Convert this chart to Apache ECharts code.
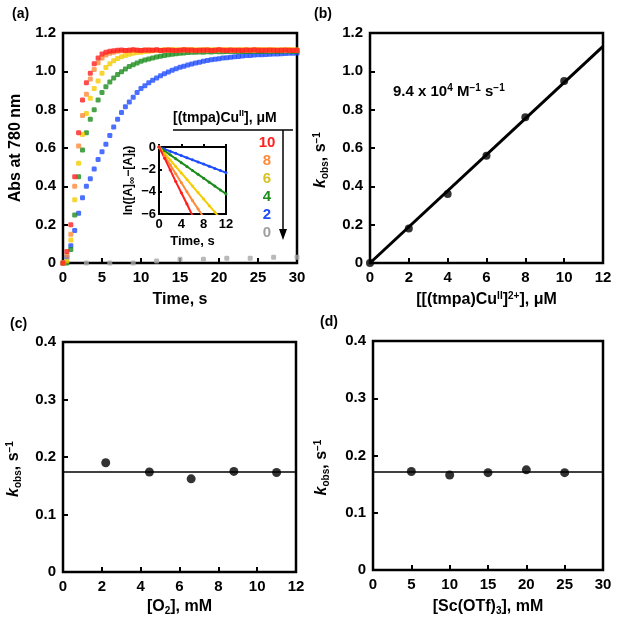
<!DOCTYPE html>
<html>
<head>
<meta charset="utf-8">
<script src="https://cdn.jsdelivr.net/npm/echarts@6.0.0/dist/echarts.min.js"></script>
<style>
html, body { margin: 0; padding: 0; background: #fff; }
#chart { width: 621px; height: 626px; }
</style>
</head>
<body>
<div id="chart"></div>
<script>
// ---- panel (a): Abs at 780 nm vs time, one series per [(tmpa)CuII] ----
var timeA = [0,0.5,1,1.5,2,2.5,3,3.5,4,4.5,5,5.5,6,6.5,7,7.5,8,8.5,9,9.5,10,10.5,11,11.5,12,12.5,13,13.5,14,14.5,
  15,15.5,16,16.5,17,17.5,18,18.5,19,19.5,20,20.5,21,21.5,22,22.5,23,23.5,24,24.5,25,25.5,26,26.5,27,27.5,28,28.5,29,29.5,30];
var abs10 = [0,0.06,0.20,0.45,0.68,0.85,0.94,0.99,1.04,1.07,1.09,1.10,1.105,1.108,
  1.110,1.111,1.109,1.110,1.112,1.110,1.109,1.111,1.110,1.110,
  1.112,1.109,1.110,1.111,1.110,1.109,1.110,1.112,1.110,1.111,
  1.109,1.110,1.110,1.111,1.109,1.110,1.112,1.110,1.109,1.111,
  1.110,1.110,1.109,1.111,1.110,1.112,1.110,1.109,1.110,1.111,
  1.110,1.109,1.110,1.111,1.110,1.109,1.110];
var abs8 = [0,0.04,0.15,0.40,0.61,0.77,0.88,0.96,1.01,1.045,1.07,1.085,1.095,1.10,1.105,1.108,
  1.109,1.110,1.111,1.110,1.109,1.110,1.112,1.110,1.111,1.109,
  1.110,1.111,1.110,1.109,1.110,1.111,1.112,1.110,1.109,1.110,
  1.111,1.110,1.109,1.110,1.112,1.110,1.111,1.109,1.110,1.110,
  1.111,1.110,1.109,1.110,1.111,1.112,1.110,1.109,1.110,1.111,
  1.110,1.109,1.110,1.111,1.110];
var abs6 = [0,0.01,0.12,0.33,0.52,0.67,0.78,0.86,0.91,0.95,0.99,1.02,1.04,1.055,1.067,1.076,1.083,1.089,1.094,1.098,1.10,1.103,1.105,1.107,
  1.109,1.110,1.112,1.111,1.113,1.112,1.111,1.113,1.112,1.112,
  1.113,1.111,1.112,1.112,1.113,1.112,1.111,1.112,1.113,1.112,
  1.111,1.112,1.113,1.112,1.112,1.111,1.113,1.112,1.112,1.113,
  1.112,1.111,1.112,1.113,1.112,1.112,1.111];
var abs4 = [0,0.0,0.07,0.25,0.45,0.59,0.68,0.75,0.80,0.85,0.89,0.92,0.945,0.965,0.983,0.998,1.012,1.025,1.035,1.044,
  1.052,1.059,1.065,1.07,1.075,1.079,1.083,1.086,1.089,1.092,1.094,1.096,1.098,1.099,1.10,
  1.101,1.100,1.102,1.101,1.103,1.102,1.102,1.103,1.104,1.103,
  1.102,1.104,1.103,1.104,1.105,1.103,1.104,1.105,1.104,1.105,
  1.104,1.105,1.106,1.105,1.104,1.105];
var abs2 = [0,0.03,0.09,0.17,0.26,0.34,0.40,0.44,0.49,0.54,
  0.58,0.62,0.665,0.71,0.75,0.785,0.815,0.84,0.865,0.89,
  0.91,0.925,0.94,0.953,0.965,0.977,0.987,0.997,1.006,1.014,
  1.021,1.027,1.033,1.038,1.043,1.048,1.052,1.056,1.06,1.063,
  1.066,1.069,1.071,1.074,1.076,1.078,1.08,1.082,1.083,1.085,
  1.086,1.087,1.088,1.089,1.09,1.091,1.092,1.093,1.094,1.095,1.096];
var timeGray = [0,3,6,9,12,15,18,21,24,27,30];
var abs0 = [0,0,0,0,0.01,0.02,0.02,0.025,0.025,0.03,0.03];

// inset: ln([A]inf - [A]t) vs time
var timeInset = [0,1,2,3,4,5,6,7,8,9,10,11,12];
var ln10 = [0,-1.0,-2.05,-3.1,-4.1,-5.1,-6.15];
var ln8 = [0,-0.8,-1.6,-2.4,-3.2,-4.0,-4.8,-5.55,-6.3];
var ln6 = [0,-0.58,-1.16,-1.75,-2.33,-2.9,-3.5,-4.08,-4.66,-5.25,-5.83,-6.4];
var ln4 = [0,-0.35,-0.7,-1.05,-1.4,-1.75,-2.1,-2.45,-2.8,-3.15,-3.5,-3.85,-4.2];
var ln2 = [0,-0.19,-0.38,-0.57,-0.77,-0.96,-1.15,-1.34,-1.53,-1.72,-1.92,-2.11,-2.3];

var concLabels = ['10', '8', '6', '4', '2', '0'];
var concColors = ['#ff2020', '#ff8a3a', '#d8c020', '#1c8c1c', '#1e4cff', '#a0a0a0'];
var dotColors = ['#ff2020', '#ff8a3a', '#f5cc00', '#1c8c1c', '#1e4cff', '#a8a8a8'];

// ---- panel (b): kobs vs [Cu] ----
var concB = [0, 2, 4, 6, 8, 10];
var kobsB = [0, 0.18, 0.36, 0.56, 0.76, 0.95];
var fitBx = [0, 12];
var fitBy = [0, 1.13];

// ---- panel (c): kobs vs [O2] ----
var o2C = [2.2, 4.45, 6.6, 8.8, 11.0];
var kobsC = [0.19, 0.174, 0.162, 0.175, 0.173];
var fitCx = [0, 12];
var fitCy = [0.174, 0.174];

// ---- panel (d): kobs vs [Sc(OTf)3] ----
var scD = [5, 10, 15, 20, 25];
var kobsD = [0.172, 0.166, 0.17, 0.175, 0.17];
var fitDx = [0, 30];
var fitDy = [0.171, 0.171];

function zip(xs, ys) {
  var out = [];
  for (var i = 0; i < ys.length; i++) out.push([xs[i], ys[i]]);
  return out;
}

var FF = '"Liberation Sans", Arial, sans-serif';
var sub = { fontSize: 10, lineHeight: 10, verticalAlign: 'bottom' };
var sup = { fontSize: 10, lineHeight: 10, verticalAlign: 'top' };

function fmt1(v) { return v === 0 ? '0' : v.toFixed(1); }

function makeAxis(gi, opt, isY) {
  var a = {
    type: 'value',
    gridIndex: gi,
    min: opt.min, max: opt.max, interval: opt.interval,
    axisLine: { show: false },
    axisTick: { show: true, inside: true, length: opt.tick || 5, lineStyle: { color: '#000', width: 2 } },
    splitLine: { show: false },
    axisLabel: {
      color: '#000', fontFamily: FF, fontWeight: 'bold', fontSize: opt.fs || 15,
      margin: opt.margin || 7, formatter: opt.formatter
    },
    name: opt.name,
    nameLocation: 'middle',
    nameGap: opt.nameGap,
    nameTextStyle: {
      color: '#000', fontFamily: FF, fontWeight: 'bold', fontSize: opt.nfs || 16,
      lineHeight: 18, padding: opt.namePad || 0,
      rich: { i: { fontStyle: 'italic' }, sub: sub, sup: sup }
    }
  };
  if (isY) a.nameRotate = 90;
  return a;
}

var gridStyle = { show: true, borderColor: '#000', borderWidth: 2.5, backgroundColor: 'transparent', containLabel: false };

var option = {
  animation: false,
  backgroundColor: '#fff',
  grid: [
    Object.assign({ left: 63, top: 33, width: 234, height: 230 }, gridStyle),
    Object.assign({ left: 370, top: 33, width: 233, height: 230 }, gridStyle),
    Object.assign({ left: 63, top: 342, width: 233, height: 230 }, gridStyle),
    Object.assign({ left: 373, top: 341, width: 230, height: 229 }, gridStyle),
    Object.assign({}, gridStyle, { left: 159, top: 147, width: 67, height: 67, borderWidth: 2 })
  ],
  xAxis: [
    makeAxis(0, { min: 0, max: 30, interval: 5, name: 'Time, s', nameGap: 28 }),
    makeAxis(1, { min: 0, max: 12, interval: 2, name: '[[(tmpa)Cu{sup|II}]{sup|2+}], μM', nameGap: 28 }),
    makeAxis(2, { min: 0, max: 12, interval: 2, name: '[O{sub|2}], mM', nameGap: 26 }),
    makeAxis(3, { min: 0, max: 30, interval: 5, name: '[Sc(OTf){sub|3}], mM', nameGap: 28 }),
    makeAxis(4, { min: 0, max: 12, interval: 4, name: 'Time, s', nameGap: 18, fs: 13, nfs: 13, margin: 4, tick: 3 })
  ],
  yAxis: [
    makeAxis(0, { min: 0, max: 1.2, interval: 0.2, formatter: fmt1, name: 'Abs at 780 nm', nameGap: 38 }, true),
    makeAxis(1, { min: 0, max: 1.2, interval: 0.2, formatter: fmt1, name: '{i|k}{sub|obs}, s{sup|−1}', nameGap: 40, namePad: [0, 24, 0, 0] }, true),
    makeAxis(2, { min: 0, max: 0.4, interval: 0.1, formatter: fmt1, name: '{i|k}{sub|obs}, s{sup|−1}', nameGap: 40, namePad: [0, 24, 0, 0] }, true),
    makeAxis(3, { min: 0, max: 0.4, interval: 0.1, formatter: fmt1, name: '{i|k}{sub|obs}, s{sup|−1}', nameGap: 42, namePad: [0, 24, 0, 0] }, true),
    makeAxis(4, {
      min: -6, max: 0, interval: 2, name: 'ln([A]{sub|∞}−[A]{sub|t})', nameGap: 14, fs: 13, nfs: 12, margin: 3, tick: 3,
      formatter: function (v) { return v === 0 ? '0' : '−' + Math.abs(v); }
    }, true)
  ],
  series: []
};

// panel (a) dots, drawn so that red ends on top
var absSets = [abs10, abs8, abs6, abs4, abs2];
option.series.push({
  type: 'scatter', xAxisIndex: 0, yAxisIndex: 0, symbol: 'roundRect', symbolSize: 5,
  itemStyle: { color: dotColors[5] }, data: zip(timeGray, abs0)
});
for (var k = 4; k >= 0; k--) {
  option.series.push({
    type: 'scatter', xAxisIndex: 0, yAxisIndex: 0, symbol: 'roundRect', symbolSize: 5,
    itemStyle: { color: dotColors[k] }, data: zip(timeA, absSets[k])
  });
}

// inset lines
var lnSets = [ln10, ln8, ln6, ln4, ln2];
for (var j = 4; j >= 0; j--) {
  option.series.push({
    type: 'line', xAxisIndex: 4, yAxisIndex: 4, clip: true,
    symbol: 'circle', symbolSize: 3, showSymbol: true,
    lineStyle: { color: dotColors[j], width: 2 }, itemStyle: { color: dotColors[j] },
    data: zip(timeInset, lnSets[j])
  });
}

// panel (b)
option.series.push({
  type: 'scatter', xAxisIndex: 1, yAxisIndex: 1, symbolSize: 8,
  itemStyle: { color: '#000' }, data: zip(concB, kobsB)
});
option.series.push({
  type: 'line', xAxisIndex: 1, yAxisIndex: 1, symbol: 'none',
  lineStyle: { color: '#000', width: 3 }, data: zip(fitBx, fitBy)
});

// panel (c)
option.series.push({
  type: 'line', xAxisIndex: 2, yAxisIndex: 2, symbol: 'none',
  lineStyle: { color: '#000', width: 1.5 }, data: zip(fitCx, fitCy)
});
option.series.push({
  type: 'scatter', xAxisIndex: 2, yAxisIndex: 2, symbolSize: 9,
  itemStyle: { color: '#000' }, data: zip(o2C, kobsC)
});

// panel (d)
option.series.push({
  type: 'line', xAxisIndex: 3, yAxisIndex: 3, symbol: 'none',
  lineStyle: { color: '#000', width: 1.5 }, data: zip(fitDx, fitDy)
});
option.series.push({
  type: 'scatter', xAxisIndex: 3, yAxisIndex: 3, symbolSize: 9,
  itemStyle: { color: '#000' }, data: zip(scD, kobsD)
});

// text annotations, legend for panel (a)
var B = function (px) { return 'bold ' + px + 'px ' + FF; };
var graphics = [
  { type: 'text', left: 12, top: 7, style: { text: '(a)', font: B(14), fill: '#000' } },
  { type: 'text', left: 314, top: 7, style: { text: '(b)', font: B(14), fill: '#000' } },
  { type: 'text', left: 10, top: 317, style: { text: '(c)', font: B(14), fill: '#000' } },
  { type: 'text', left: 320, top: 315, style: { text: '(d)', font: B(14), fill: '#000' } },
  {
    type: 'text', left: 393, top: 83,
    style: {
      text: '9.4 x 10{s|4} M{s|−1} s{s|−1}', font: B(15), fill: '#000', lineHeight: 18,
      rich: { s: { font: B(10), fill: '#000', lineHeight: 10, verticalAlign: 'top' } }
    }
  },
  {
    type: 'text', left: 173, top: 109,
    style: {
      text: '[(tmpa)Cu{s|II}], μM', font: B(14), fill: '#000', lineHeight: 18,
      rich: { s: { font: B(9), fill: '#000', lineHeight: 10, verticalAlign: 'top' } }
    }
  },
  { type: 'line', shape: { x1: 173, y1: 130, x2: 293, y2: 130 }, style: { stroke: '#000', lineWidth: 1.5 } },
  { type: 'line', shape: { x1: 283, y1: 130, x2: 283, y2: 232 }, style: { stroke: '#000', lineWidth: 1.5 } },
  { type: 'polygon', shape: { points: [[279, 229], [287, 229], [283, 240]] }, style: { fill: '#000' } }
];
for (var n = 0; n < concLabels.length; n++) {
  graphics.push({
    type: 'text', x: 267, y: 143 + n * 18,
    style: { text: concLabels[n], font: B(15), fill: concColors[n], align: 'center', verticalAlign: 'middle' }
  });
}
option.graphic = graphics;

var chart = echarts.init(document.getElementById('chart'));
chart.setOption(option);
</script>
</body>
</html>
